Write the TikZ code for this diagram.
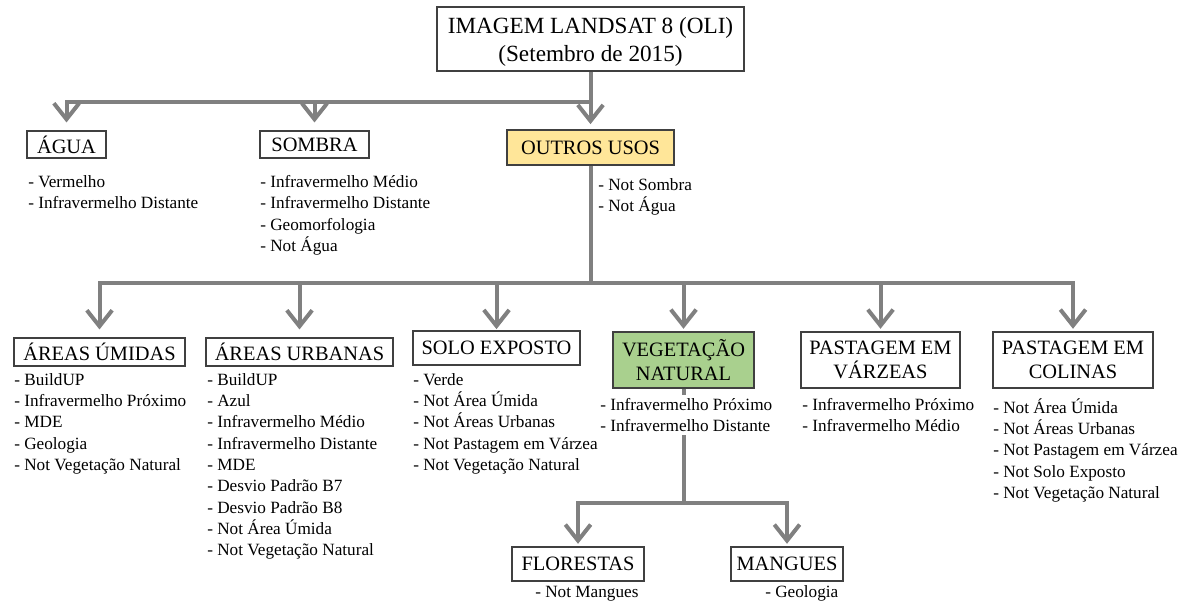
\documentclass[tikz,border=0pt]{standalone}
\usepackage{fontspec}
\setmainfont{Liberation Serif}
\usepackage{tikz}
\usetikzlibrary{arrows.meta}
\usepackage{xcolor}
\definecolor{linegray}{RGB}{128,128,128}
\definecolor{boxline}{RGB}{64,64,64}
\definecolor{outrosfill}{RGB}{255,230,153}
\definecolor{vegfill}{RGB}{169,208,142}
\newcommand{\lstrut}{\rule{0pt}{12pt}}

\begin{document}
\begin{tikzpicture}[x=0.75pt,y=-0.75pt,>={Straight Barb[length=12pt,width=19pt]},line join=miter,
  box/.style={draw=boxline,line width=0.8pt,fill=white,inner sep=0pt,align=center,font=\fontsize{15.3}{18}\selectfont},
  lst/.style={anchor=north west,align=left,inner xsep=0pt,inner ysep=2.25pt,font=\fontsize{12.9}{16}\selectfont,execute at begin node=\lstrut},
  conn/.style={linegray,line width=3pt},
  arr/.style={conn,->,shorten >=2pt}]
\useasboundingbox (0,0) rectangle (1195,603);
% boxes
\node[box,minimum width=230.25pt,minimum height=48pt,font=\fontsize{17.4}{21}\selectfont] (title) at (590.5,39) {\rule{0pt}{17pt}IMAGEM LANDSAT 8 (OLI)\\(Setembro de 2015)};
\node[box,minimum width=59.25pt,minimum height=20.25pt] (agua) at (66.5,144.5) {ÁGUA};
\node[box,minimum width=81.75pt,minimum height=20.25pt] (sombra) at (314.5,144.5) {SOMBRA};
\node[box,fill=outrosfill,minimum width=125.25pt,minimum height=26.25pt] (outros) at (590.5,147.5) {OUTROS USOS};
\node[box,minimum width=128.25pt,minimum height=21pt] (umidas) at (99.5,352) {ÁREAS ÚMIDAS};
\node[box,minimum width=140.25pt,minimum height=21pt] (urbanas) at (299.5,352) {ÁREAS URBANAS};
\node[box,minimum width=125.25pt,minimum height=25.5pt] (solo) at (496.5,348) {SOLO EXPOSTO};
\node[box,fill=vegfill,minimum width=105.75pt,minimum height=42pt] (veg) at (683.5,360) {VEGETAÇÃO\\NATURAL};
\node[box,minimum width=119.25pt,minimum height=42pt] (varzeas) at (880.5,360) {PASTAGEM EM\\VÁRZEAS};
\node[box,minimum width=120pt,minimum height=42pt] (colinas) at (1073,360) {PASTAGEM EM\\COLINAS};
\node[box,minimum width=99pt,minimum height=25.5pt] (florestas) at (578,564) {FLORESTAS};
\node[box,minimum width=84pt,minimum height=25.5pt] (mangues) at (787,564) {MANGUES};
% junctions
\coordinate (b1) at (590.5,102);
\coordinate (b2) at (590.5,283);
\coordinate (b3) at (683.5,503);
% connectors
\draw[conn] (title) -- (b1);
\draw[arr,shorten >=6pt] (b1) -| (agua.north);
\draw[arr,shorten >=6pt] (b1) -| (sombra.north);
\draw[arr,shorten >=4pt] (b1) -- (outros);
\draw[conn] (outros) -- (b2);
\foreach \n/\s in {umidas/6pt,urbanas/6pt,solo/1pt,veg/2pt,varzeas/2pt,colinas/2pt}
  \draw[arr,shorten >=\s] (b2) -| (\n.north);
\draw[conn] (veg) -- (b3);
\draw[arr] (b3) -| (florestas.north);
\draw[arr] (b3) -| (mangues.north);
% lists
\node[lst] (agualist) at (28,172) {- Vermelho\\- Infravermelho Distante};
\node[lst] (sombralist) at (260,172) {- Infravermelho Médio\\- Infravermelho Distante\\- Geomorfologia\\- Not Água};
\node[lst] (outroslist) at (598,175) {- Not Sombra\\- Not Água};
\node[lst] (umidaslist) at (14,370) {- BuildUP\\- Infravermelho Próximo\\- MDE\\- Geologia\\- Not Vegetação Natural};
\node[lst] (urbanaslist) at (207,370) {- BuildUP\\- Azul\\- Infravermelho Médio\\- Infravermelho Distante\\- MDE\\- Desvio Padrão B7\\- Desvio Padrão B8\\- Not Área Úmida\\- Not Vegetação Natural};
\node[lst] (sololist) at (413,370) {- Verde\\- Not Área Úmida\\- Not Áreas Urbanas\\- Not Pastagem em Várzea\\- Not Vegetação Natural};
\node[lst,fill=white] (veglist) at (600,395) {- Infravermelho Próximo\\- Infravermelho Distante};
\node[lst] (varzeaslist) at (802,395) {- Infravermelho Próximo\\- Infravermelho Médio};
\node[lst] (colinaslist) at (993,395) {- Not Área Úmida\\- Not Áreas Urbanas\\- Not Pastagem em Várzea\\- Not Solo Exposto\\- Not Vegetação Natural};
\node[lst] (florestaslist) at (535,578) {- Not Mangues};
\node[lst] (mangueslist) at (765,578) {- Geologia};
\end{tikzpicture}
\end{document}
